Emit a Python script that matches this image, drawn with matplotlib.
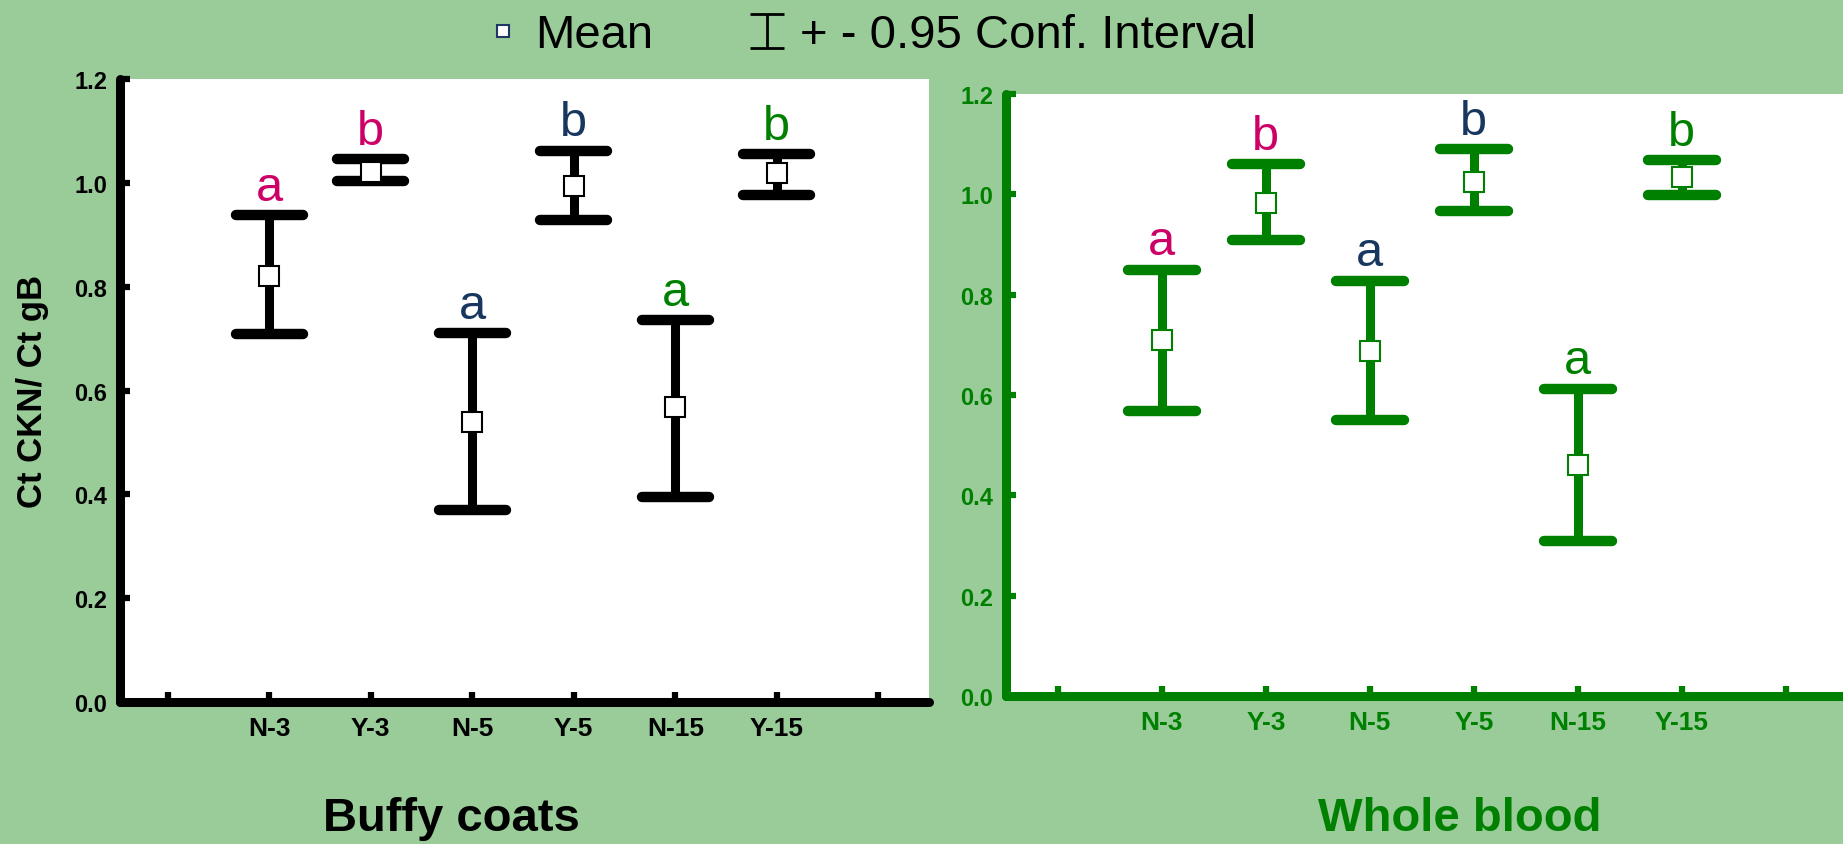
import matplotlib
matplotlib.use("Agg")
import matplotlib.pyplot as plt
from matplotlib.lines import Line2D
from matplotlib.path import Path
from matplotlib.ticker import FormatStrFormatter

plt.rcParams["font.family"] = ["Liberation Sans", "DejaVu Sans"]

# data
groups = ["N-3", "Y-3", "N-5", "Y-5", "N-15", "Y-15"]
letters = ["a", "b", "a", "b", "a", "b"]

buffy_mean = [0.821, 1.021, 0.539, 0.994, 0.568, 1.019]
buffy_low = [0.709, 1.003, 0.369, 0.928, 0.394, 0.976]
buffy_high = [0.938, 1.046, 0.711, 1.062, 0.736, 1.055]

blood_mean = [0.710, 0.983, 0.688, 1.024, 0.461, 1.034]
blood_low = [0.568, 0.909, 0.550, 0.966, 0.309, 0.999]
blood_high = [0.850, 1.061, 0.828, 1.090, 0.613, 1.069]

background = "#99CC99"
green = "#008000"
letter_colors = ["#CC0066", "#CC0066", "#17375E", "#17375E", green, green]


def draw_panel(axis, means, lows, highs, color, x_limits):
    positions = list(range(1, len(groups) + 1))
    half_cap = 0.33

    axis.vlines(positions, lows, highs, color=color, linewidth=6.5, zorder=2)
    for values in (lows, highs):
        axis.hlines(
            values,
            [p - half_cap for p in positions],
            [p + half_cap for p in positions],
            color=color,
            linewidth=7.5,
            capstyle="round",
            zorder=2,
        )

    axis.plot(
        positions,
        means,
        linestyle="none",
        marker="s",
        markersize=14,
        markerfacecolor="white",
        markeredgecolor=color,
        markeredgewidth=1.5,
        zorder=3,
    )

    for position, high, letter, letter_color in zip(
        positions, highs, letters, letter_colors
    ):
        axis.annotate(
            letter,
            (position, high),
            xytext=(0, 11),
            textcoords="offset points",
            ha="center",
            va="baseline",
            fontsize=35,
            color=letter_color,
        )

    axis.set_facecolor("white")
    axis.set_xlim(*x_limits)
    axis.set_ylim(0.0, 1.2)

    axis.set_xticks(range(len(groups) + 2))
    axis.set_xticklabels(
        [""] + groups + [""], fontsize=19, fontweight="bold", color=color
    )
    axis.set_yticks([0.0, 0.2, 0.4, 0.6, 0.8, 1.0, 1.2])
    axis.yaxis.set_major_formatter(FormatStrFormatter("%.1f"))
    for label in axis.get_yticklabels():
        label.set_fontweight("bold")
        label.set_fontsize(17)
        label.set_color(color)

    axis.tick_params(axis="x", direction="in", length=7, width=4.5,
                     color=color, pad=10)
    axis.tick_params(axis="y", direction="in", length=7, width=4.5,
                     color=color, pad=9)

    for side in ("top", "right"):
        axis.spines[side].set_visible(False)
    for side in ("left", "bottom"):
        axis.spines[side].set_linewidth(6.5)
        axis.spines[side].set_color(color)
        axis.spines[side].set_capstyle("round")


figure = plt.figure(figsize=(18.43, 8.45), dpi=100, facecolor=background)

left_axis = figure.add_axes([0.0651, 0.1680, 0.4390, 0.7373])
right_axis = figure.add_axes([0.5458, 0.1751, 0.4542, 0.7124])

draw_panel(left_axis, buffy_mean, buffy_low, buffy_high, "black", (-0.47, 7.5))
draw_panel(right_axis, blood_mean, blood_low, blood_high, green, (-0.5, 7.55))

figure.text(
    0.0179, 0.537, "Ct CKN/ Ct gB",
    rotation=90, ha="center", va="center", fontsize=25, fontweight="bold",
)
figure.text(0.245, 0.031, "Buffy coats", ha="center", va="center",
            fontsize=34, fontweight="bold", color="black")
figure.text(0.792, 0.031, "Whole blood", ha="center", va="center",
            fontsize=34, fontweight="bold", color=green)

# legend: open square for the mean, I-beam for the confidence interval
interval_marker = Path(
    [(-1, 1), (1, 1), (0, 1), (0, -1), (-1, -1), (1, -1)],
    [Path.MOVETO, Path.LINETO, Path.MOVETO, Path.LINETO,
     Path.MOVETO, Path.LINETO],
)
mean_handle = Line2D([], [], linestyle="none", marker="s", markersize=8,
                     markerfacecolor="white", markeredgecolor="#1F3864",
                     markeredgewidth=1.5)
interval_handle = Line2D([], [], linestyle="none", marker=interval_marker,
                         markersize=24, markeredgecolor="black",
                         markerfacecolor="none", markeredgewidth=2)
figure.legend(
    handles=[mean_handle, interval_handle],
    labels=["Mean", "+ - 0.95 Conf. Interval"],
    loc="center",
    bbox_to_anchor=(0.472, 0.957),
    ncol=2,
    frameon=False,
    fontsize=34,
    handlelength=0.8,
    handletextpad=0.3,
    columnspacing=2.0,
)

figure.savefig("out.png", dpi=100, facecolor=background)
